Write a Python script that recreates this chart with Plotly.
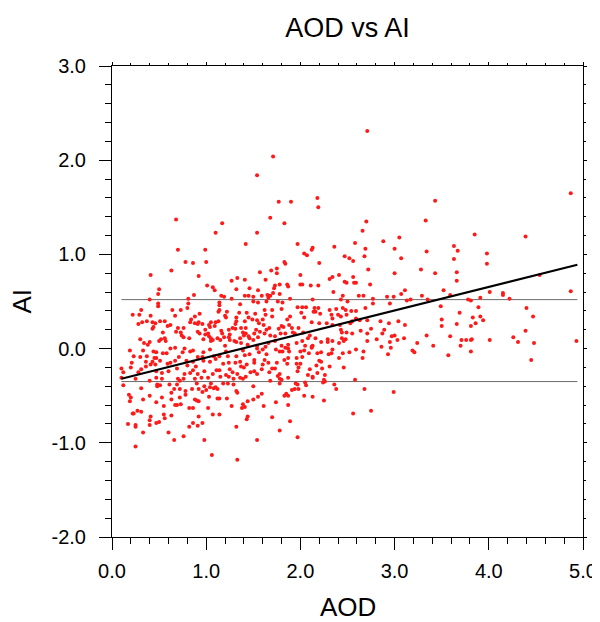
import plotly.graph_objects as go

# ---- data ----
aod = [
    1.54, 0.68, 1.17, 1.10, 1.54, 1.68,
    2.71, 1.71, 1.77, 1.90, 2.18, 2.19, 1.83, 2.70, 2.66, 3.33,
    3.43, 4.87, 3.85,
    3.57, 3.81, 4.45,
    4.39, 3.34, 3.63, 3.67, 3.98, 3.63, 3.98, 3.43, 3.66, 3.66,
    4.54, 3.52, 3.59, 4.01, 4.15, 4.15, 4.22, 4.87, 3.35, 3.78,
    3.81, 3.91, 3.49, 3.89, 4.40, 3.69, 4.47, 3.83, 3.91, 3.94,
    3.50, 3.86, 3.66, 3.81, 3.50, 4.39, 3.34, 3.59, 4.26, 3.71,
    3.76, 3.81, 3.82, 4.01, 4.31, 4.48, 4.93, 3.41, 3.70,
    # lower middle region
    2.96, 3.19, 3.21, 2.93, 2.67, 2.59, 2.52, 2.45, 2.34, 2.33,
    2.30, 2.41, 2.66, 2.46, 2.58, 2.68, 2.99, 2.75, 2.56, 2.25,
    2.38, 2.36, 2.26, 2.24, 2.25, 2.26, 2.31, 2.23, 2.18, 2.13,
    2.08, 2.17, 2.22, 2.20, 2.22, 2.18, 2.12, 2.09, 2.10, 2.13,
    2.05, 2.06, 2.04, 2.13, 1.98, 1.94, 1.91, 1.97, 1.95, 1.87,
    1.87, 1.83, 1.85, 1.74, 1.87, 1.70, 1.89, 1.78, 1.97, 1.80,
    1.78, 1.76, 1.78, 1.68, 1.78, 1.67, 1.70, 1.73, 1.75, 1.86,
    1.83, 1.87, 1.96, 2.00, 1.97, 1.98, 1.96, 2.02, 2.00, 2.04,
    1.88, 1.87, 1.84, 1.81, 1.78, 1.74, 1.66, 2.05,
    # upper middle region
    3.05, 2.88, 1.97, 2.58, 2.13, 2.12, 2.36, 2.69, 3.00, 2.04,
    2.07, 2.47, 2.52, 2.68, 3.07, 2.56, 1.83, 1.84, 2.20, 1.75,
    1.69, 2.72, 3.28, 1.75, 2.00, 3.00, 2.56, 2.34, 2.31, 2.41,
    2.47, 2.49, 2.57, 2.59, 2.74, 1.78, 1.86, 1.87, 2.00, 2.02,
    2.11, 2.19, 1.73, 1.72, 1.71, 1.68, 1.78, 1.89, 1.66, 1.76,
    1.81, 3.11, 3.07, 3.29, 2.92, 2.99, 2.45, 2.62, 2.67, 2.35,
    2.13, 2.43, 2.77, 2.95, 2.77, 3.17, 3.13, 2.50, 1.70, 1.80,
    1.97, 2.02, 2.06, 2.15, 2.19, 2.31, 2.38, 2.45, 2.48, 2.54,
    2.59, 2.69, 2.01, 2.14, 2.16, 2.21, 2.33, 2.40, 2.49, 1.70,
    1.89, 2.04, 2.43, 2.34, 2.59, 2.63, 2.71, 2.85, 3.04, 1.86,
    1.88, 2.12, 2.20, 2.28, 2.34, 2.42, 2.53, 2.55, 2.94, 3.11,
    1.80, 1.82, 1.77, 1.91, 1.98, 1.67, 1.79, 1.84, 1.92, 1.94,
    1.68, 1.73, 2.03, 2.10, 2.08, 2.16, 2.29, 2.34, 2.44, 2.46,
    2.48, 2.43, 2.44, 2.49, 2.64, 2.55, 2.71, 2.75, 2.87, 2.89,
    3.00, 2.97, 2.81, 3.03, 3.10, 2.71, 2.86, 3.24, 2.95, 1.96,
    2.02, 2.13, 2.29, 2.41, 2.22, 2.12, 1.87, 1.80, 1.73, 1.66,
    # upper left region
    1.42, 0.70, 0.99, 0.78, 0.86, 1.00, 0.63, 0.41, 0.92, 1.57,
    1.63, 1.27, 1.33, 1.41, 1.01, 1.07, 1.09, 0.50, 0.49, 1.32,
    1.46, 1.55, 0.87, 1.16, 1.19, 1.27, 1.41, 1.45, 1.50, 1.59,
    1.65, 0.40, 0.81, 0.81, 0.49, 0.49, 1.14, 1.14, 1.36, 1.50,
    1.55, 1.64, 0.31, 0.22, 0.29, 0.41, 0.64, 0.73, 0.80, 0.67,
    0.93, 0.88, 1.14, 1.13, 1.22, 1.20, 1.21, 1.35, 1.43, 1.52,
    1.62, 1.63, 1.60, 1.32, 1.32, 1.45, 1.49, 1.54, 1.41, 0.28,
    0.32, 0.37, 0.43, 0.46, 0.51, 0.56, 0.44, 0.43, 0.62, 0.59,
    0.70, 0.76, 0.68, 0.73, 0.84, 0.83, 0.88, 0.91, 0.92, 0.96,
    1.05, 1.10, 1.13, 1.03, 0.99, 1.04, 1.09, 0.91, 0.93, 0.54,
    0.74, 0.76, 0.82, 0.52, 0.50, 0.56, 0.57, 0.30, 0.34, 0.38,
    0.40, 0.99, 1.02, 0.97, 1.03, 1.05, 1.05, 1.07, 1.12, 1.15,
    1.19, 1.24, 1.25, 1.17, 1.16, 1.25, 1.30, 1.32, 1.36, 1.39,
    1.40, 1.42, 1.45, 1.46, 1.50, 1.51, 1.55, 1.57, 1.62, 1.64,
    1.28, 1.31, 1.37, 1.42, 1.31, 1.24, 1.53, 1.56, 1.61, 1.20,
    1.37, 1.44, 1.54, 1.63,
    # lower left region, near the line
    0.23, 0.30, 0.21, 0.20, 0.10, 0.12, 0.10, 0.37, 0.36, 0.45,
    0.43, 0.47, 0.54, 0.58, 0.47, 0.67, 0.59, 0.62, 0.67, 0.71,
    0.75, 0.83, 0.86, 0.91, 0.96, 0.97, 0.89, 0.80, 0.77, 0.83,
    0.69, 0.60, 0.53, 0.47, 0.31, 0.28, 0.25, 0.47, 0.40, 0.53,
    0.70, 0.72, 0.76, 0.88, 0.95, 1.02, 1.07, 1.11, 1.14, 1.15,
    1.21, 1.24, 1.25, 1.28, 1.33, 1.36, 1.39, 1.42, 1.29, 1.47,
    1.51, 1.54, 1.59, 1.60, 1.62, 1.64, 1.51, 1.51, 1.43, 1.40,
    1.37, 1.36, 1.31, 1.24, 1.18, 1.10, 1.04, 1.08, 1.14, 1.23,
    1.32, 1.41, 1.46, 1.56, 0.86, 0.79, 0.46, 0.51, 0.36, 0.41,
    0.91, 0.98, 0.86,
    1.54, 1.60, 1.39, 1.21, 1.04, 0.97, 0.77, 0.62, 0.44, 0.33,
    0.19,
    # lower left region, below the lower line
    0.12, 0.31, 0.48, 0.48, 0.51, 0.61, 0.69, 0.66, 0.72, 0.78,
    0.85, 0.92, 0.98, 1.04, 1.05, 1.08, 1.10, 1.12, 0.90, 1.18,
    1.23, 1.29, 1.50, 1.32, 1.33, 1.22, 1.59, 1.55, 1.50, 1.44,
    1.39, 1.41, 1.38, 1.27, 1.44, 1.43, 1.61, 1.14, 1.12, 1.03,
    0.96, 0.90, 0.92, 1.02, 0.82, 0.73, 0.69, 0.67, 0.63, 0.53,
    0.47, 0.55, 0.40, 0.33, 0.18, 0.20, 0.19, 0.27, 0.22, 0.23,
    0.31, 0.17, 0.25, 0.25, 0.33, 0.25, 0.41, 0.40, 0.40, 0.47,
    0.50, 0.55, 0.63, 0.56, 0.60, 0.66, 0.76, 0.82, 0.86, 0.91,
    0.92, 0.96, 0.98, 1.07, 1.14, 1.06, 1.32, 1.33, 1.54, 0.86,
    0.88, 1.00, 0.78, 0.72, 0.63,
]

ai = [
    1.84, 1.37, 1.33, 1.23, 1.23, 1.39,
    2.31, 2.04, 1.56, 1.56, 1.60, 1.50, 1.33, 1.35, 1.25, 1.36,
    1.57, 1.65, 1.21,
    -0.07, -0.03, -0.12,
    1.19, 1.03, 1.09, 1.04, 1.01, 0.95, 0.90, 0.80, 0.81, 0.72,
    0.78, 0.62, 0.57, 0.60, 0.59, 0.57, 0.53, 0.61, 0.52, 0.52,
    0.51, 0.54, 0.45, 0.44, 0.43, 0.38, 0.34, 0.33, 0.34, 0.30,
    0.31, 0.27, 0.26, 0.24, 0.24, 0.19, 0.14, 0.13, 0.12, 0.09,
    0.09, 0.09, 0.10, 0.09, 0.07, 0.06, 0.08, 0.03, 0.03,
    # lower middle region
    0.01, -0.02, -0.04, -0.06, -0.03, -0.01, -0.04, -0.05, -0.01, -0.05,
    -0.06, -0.10, -0.10, -0.20, -0.33, -0.43, -0.46, -0.66, -0.69, -0.55,
    -0.43, -0.38, -0.35, -0.36, -0.33, -0.28, -0.19, -0.21, -0.26, -0.30,
    -0.28, -0.18, -0.14, -0.13, -0.04, -0.05, 0.01, -0.05, -0.22, -0.31,
    -0.36, -0.39, -0.50, -0.51, -0.43, -0.43, -0.44, -0.38, -0.37, -0.31,
    -0.50, -0.50, -0.48, -0.57, -0.60, -0.73, -0.77, -0.87, -0.94, -0.33,
    -0.32, -0.29, -0.27, -0.34, -0.37, -0.25, -0.21, -0.21, -0.15, -0.16,
    -0.12, -0.10, -0.16, -0.16, -0.24, -0.20, -0.10, -0.09, -0.03, -0.02,
    -0.03, 0.00, 0.01, -0.03, -0.03, -0.01, -0.15, 0.03,
    # upper middle region
    1.18, 1.14, 1.11, 1.12, 1.07, 1.05, 1.08, 1.06, 1.06, 1.01,
    0.99, 0.98, 0.96, 0.98, 0.96, 0.93, 0.92, 0.90, 0.91, 0.85,
    0.83, 0.84, 0.84, 0.80, 0.78, 0.80, 0.76, 0.76, 0.74, 0.78,
    0.71, 0.70, 0.70, 0.70, 0.68, 0.68, 0.68, 0.66, 0.68, 0.68,
    0.67, 0.67, 0.67, 0.64, 0.59, 0.56, 0.58, 0.53, 0.54, 0.50,
    0.49, 0.62, 0.58, 0.56, 0.55, 0.55, 0.56, 0.56, 0.56, 0.60,
    0.52, 0.52, 0.53, 0.48, 0.48, 0.52, 0.51, 0.50, 0.41, 0.42,
    0.44, 0.44, 0.44, 0.43, 0.43, 0.41, 0.42, 0.43, 0.41, 0.40,
    0.40, 0.43, 0.38, 0.39, 0.39, 0.37, 0.36, 0.36, 0.36, 0.34,
    0.34, 0.33, 0.34, 0.32, 0.32, 0.30, 0.30, 0.29, 0.29, 0.31,
    0.25, 0.28, 0.27, 0.27, 0.25, 0.25, 0.27, 0.29, 0.27, 0.25,
    0.24, 0.23, 0.21, 0.22, 0.22, 0.22, 0.16, 0.16, 0.17, 0.16,
    0.14, 0.13, 0.17, 0.14, 0.11, 0.11, 0.10, 0.08, 0.11, 0.08,
    0.10, 0.20, 0.17, 0.17, 0.19, 0.16, 0.16, 0.21, 0.16, 0.20,
    0.14, 0.13, 0.10, 0.09, 0.11, 0.08, 0.02, 0.06, 0.07, 0.06,
    0.08, 0.03, 0.07, 0.06, 0.07, 0.02, 0.04, 0.03, 0.08, 0.06,
    # upper left region
    1.11, 1.05, 1.05, 0.92, 0.91, 0.92, 0.83, 0.78, 0.77, 0.81,
    0.73, 0.72, 0.75, 0.73, 0.67, 0.65, 0.62, 0.63, 0.58, 0.63,
    0.64, 0.62, 0.57, 0.56, 0.55, 0.53, 0.56, 0.56, 0.55, 0.56,
    0.57, 0.52, 0.53, 0.48, 0.48, 0.45, 0.49, 0.46, 0.47, 0.50,
    0.49, 0.50, 0.41, 0.36, 0.36, 0.35, 0.41, 0.41, 0.43, 0.35,
    0.37, 0.34, 0.41, 0.39, 0.39, 0.35, 0.33, 0.38, 0.38, 0.37,
    0.41, 0.36, 0.31, 0.33, 0.29, 0.33, 0.31, 0.30, 0.29, 0.26,
    0.28, 0.29, 0.28, 0.27, 0.29, 0.29, 0.23, 0.21, 0.25, 0.24,
    0.22, 0.22, 0.18, 0.17, 0.31, 0.28, 0.27, 0.26, 0.28, 0.26,
    0.28, 0.28, 0.29, 0.25, 0.20, 0.23, 0.24, 0.18, 0.16, 0.17,
    0.14, 0.12, 0.11, 0.10, 0.08, 0.11, 0.08, 0.10, 0.06, 0.04,
    0.07, 0.15, 0.16, 0.10, 0.13, 0.11, 0.08, 0.09, 0.11, 0.09,
    0.12, 0.12, 0.09, 0.16, 0.19, 0.15, 0.08, 0.07, 0.11, 0.17,
    0.14, 0.16, 0.13, 0.11, 0.09, 0.16, 0.12, 0.18, 0.16, 0.20,
    0.22, 0.21, 0.22, 0.22, 0.26, 0.20, 0.20, 0.27, 0.25, 0.03,
    0.06, 0.04, 0.03, 0.02,
    # lower left region, near the line
    -0.08, -0.09, -0.15, -0.20, -0.21, -0.25, -0.31, -0.08, -0.14, -0.10,
    -0.14, -0.10, -0.05, -0.05, -0.04, 0.01, -0.16, -0.15, -0.13, -0.09,
    -0.04, -0.03, -0.02, -0.09, -0.09, -0.13, -0.19, -0.18, -0.27, -0.26,
    -0.21, -0.24, -0.26, -0.24, -0.22, -0.25, -0.32, -0.31, -0.34, -0.32,
    -0.32, -0.34, -0.32, -0.32, -0.31, -0.31, -0.27, -0.23, -0.23, -0.30,
    -0.28, -0.30, -0.22, -0.25, -0.27, -0.31, -0.32, -0.30, -0.32, -0.25,
    -0.24, -0.27, -0.22, -0.17, -0.12, -0.06, -0.12, -0.15, -0.17, -0.20,
    -0.19, -0.14, -0.15, -0.15, -0.16, -0.11, -0.14, -0.08, -0.08, -0.08,
    -0.08, -0.07, -0.06, -0.04, -0.14, -0.13, -0.17, -0.13, -0.19, -0.17,
    -0.27, -0.24, -0.23,
    0.00, -0.01, -0.02, -0.03, -0.01, -0.04, 0.00, 0.00, -0.03, -0.02,
    -0.02,
    # lower left region, below the lower line
    -0.39, -0.42, -0.38, -0.40, -0.39, -0.38, -0.38, -0.43, -0.43, -0.45,
    -0.43, -0.43, -0.40, -0.41, -0.37, -0.42, -0.41, -0.43, -0.37, -0.37,
    -0.37, -0.38, -0.40, -0.45, -0.47, -0.53, -0.48, -0.51, -0.54, -0.56,
    -0.59, -0.62, -0.63, -0.61, -0.72, -0.75, -0.61, -0.53, -0.53, -0.51,
    -0.46, -0.55, -0.56, -0.63, -0.63, -0.59, -0.60, -0.60, -0.47, -0.52,
    -0.57, -0.61, -0.50, -0.54, -0.49, -0.52, -0.56, -0.66, -0.69, -0.69,
    -0.67, -0.80, -0.81, -0.83, -0.89, -1.04, -0.72, -0.76, -0.81, -0.79,
    -0.78, -0.70, -0.71, -0.74, -0.89, -0.97, -0.93, -0.83, -0.79, -0.82,
    -0.72, -0.79, -0.97, -0.70, -0.70, -1.13, -0.83, -1.18, -0.97, -0.63,
    -0.54, -0.44, -0.49, -0.52, -0.54,
]

# regression line and the two reference lines (end points)
reg_x = [0.10, 4.94]
reg_y = [-0.32, 0.89]
ref_x = [0.10, 4.94]
ref_upper = [0.52, 0.52]
ref_lower = [-0.35, -0.35]

x_ticks = [0, 1, 2, 3, 4, 5]
x_ticktext = ["0.0", "1.0", "2.0", "3.0", "4.0", "5.0"]
y_ticks = [-2, -1, 0, 1, 2, 3]
y_ticktext = ["-2.0", "-1.0", "0.0", "1.0", "2.0", "3.0"]

FONT = "Liberation Sans, Arial, Helvetica, sans-serif"

# The page body has an 8px default margin, so the figure is drawn 8px in
# from the window's top-left corner; sizes below compensate for that.
W, H = 592, 614
L, T, R, B = 104, 58, 17, 85
PLOT_H = H - T - B

fig = go.Figure()
fig.add_trace(go.Scatter(x=ref_x, y=ref_upper, mode="lines",
                         line=dict(color="#6a6a6a", width=1), hoverinfo="skip"))
fig.add_trace(go.Scatter(x=ref_x, y=ref_lower, mode="lines",
                         line=dict(color="#6a6a6a", width=1), hoverinfo="skip"))
fig.add_trace(go.Scatter(x=aod, y=ai, mode="markers",
                         marker=dict(color="#ff1a1a", size=4, line=dict(width=0))))
fig.add_trace(go.Scatter(x=reg_x, y=reg_y, mode="lines",
                         line=dict(color="black", width=2)))
# invisible trace for the mirrored (top/right) tick axes
fig.add_trace(go.Scatter(x=[0], y=[0], xaxis="x2", yaxis="y2", mode="markers",
                         marker=dict(opacity=0), hoverinfo="skip"))

common = dict(showgrid=False, zeroline=False, showline=True, linecolor="black",
              linewidth=1, ticks="outside", tickcolor="black", tickwidth=1,
              automargin=False)

fig.update_layout(
    width=W, height=H,
    margin=dict(l=L, r=R, t=T, b=B, autoexpand=False),
    paper_bgcolor="white", plot_bgcolor="white",
    showlegend=False,
    font=dict(family=FONT, color="black"),
    title=dict(text="AOD vs AI", x=(L + (W - R)) / 2 / W, xanchor="center",
               y=1 - 20 / H, yanchor="middle", automargin=False,
               font=dict(size=27, family=FONT, color="black")),
    xaxis=dict(range=[0, 5], tickvals=x_ticks, ticktext=x_ticktext, ticklen=12,
               ticklabelstandoff=4,
               tickfont=dict(size=20), minor=dict(dtick=0.2, ticklen=6, ticks="outside",
                                                  tickcolor="black", tickwidth=1),
               **common),
    yaxis=dict(range=[-2, 3], tickvals=y_ticks, ticktext=y_ticktext, ticklen=12,
               ticklabelstandoff=9,
               tickfont=dict(size=20), minor=dict(dtick=0.2, ticklen=6, ticks="outside",
                                                  tickcolor="black", tickwidth=1),
               **common),
    xaxis2=dict(range=[0, 5], overlaying="x", side="top", tickvals=x_ticks,
                showticklabels=False, ticklen=3,
                minor=dict(dtick=0.2, ticklen=2, ticks="outside", tickcolor="black"),
                **common),
    yaxis2=dict(range=[-2, 3], overlaying="y", side="right", tickvals=y_ticks,
                showticklabels=False, ticklen=3,
                minor=dict(dtick=0.2, ticklen=2, ticks="outside", tickcolor="black"),
                **common),
    annotations=[
        dict(text="AOD", xref="paper", yref="paper", x=0.5,
             y=((H - B) - 599) / PLOT_H,
             xanchor="center", yanchor="middle", showarrow=False,
             font=dict(size=26, family=FONT, color="black")),
        dict(text="AI", xref="paper", yref="paper", x=(13 - L) / (W - L - R), y=0.5,
             xanchor="center", yanchor="middle", showarrow=False, textangle=-90,
             font=dict(size=26, family=FONT, color="black")),
    ],
)

fig.write_html("out.html")
